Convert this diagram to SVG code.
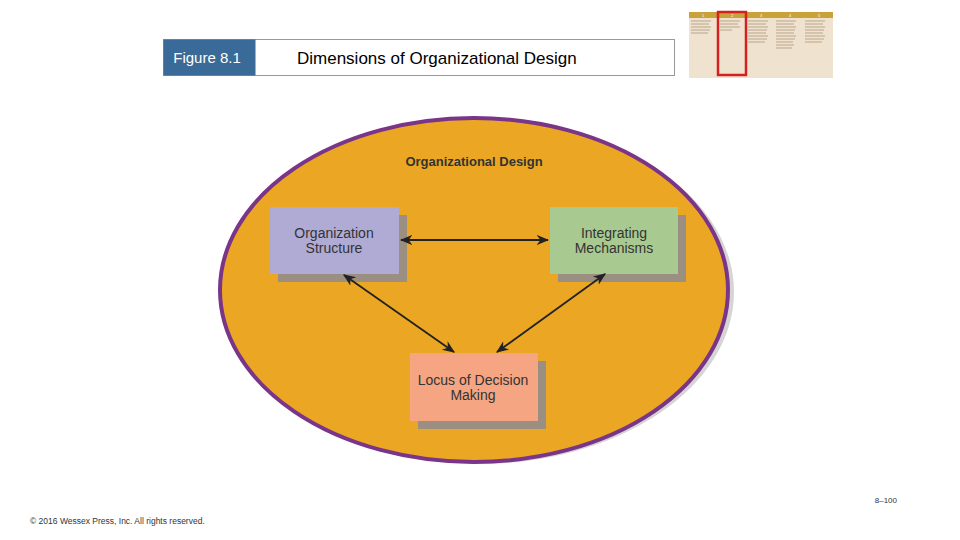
<svg xmlns="http://www.w3.org/2000/svg" width="960" height="540" viewBox="0 0 960 540">
<style>
.t{font-family:"Liberation Sans",Arial,sans-serif}
.box text{font-size:14px;fill:#333;text-anchor:middle}
.ln{stroke:#222;stroke-width:1.8;fill:none;marker-start:url(#a);marker-end:url(#a)}
.tl{stroke:#b9a58a;stroke-width:1.2}
.sh{fill:#9a8f80}
</style>
<defs>
<marker id="a" viewBox="0 0 10 10" refX="9" refY="5" markerWidth="7" markerHeight="7" orient="auto-start-reverse"><path d="M0,1 L10,5 L0,9 L3,5 Z" fill="#222"/></marker>
</defs>
<rect width="960" height="540" fill="#fff"/>
<g id="header">
<rect x="163.5" y="39.5" width="511" height="36" fill="#fff" stroke="#999"/>
<rect x="163.5" y="39.5" width="92" height="36" fill="#3a6a97"/>
<text class="t" x="207" y="63" font-size="15" fill="#fff" text-anchor="middle">Figure 8.1</text>
<text class="t" x="297" y="64" font-size="17" fill="#000">Dimensions of Organizational Design</text>
</g>
<g id="thumb">
<rect x="689" y="12" width="144" height="66" fill="#efe3d0"/>
<rect x="689" y="12" width="144" height="6" fill="#c9a23a"/>
<g class="t" font-size="4" fill="#fff" text-anchor="middle"><text x="703" y="17">1</text><text x="732" y="17">2</text><text x="761" y="17">3</text><text x="790" y="17">4</text><text x="819" y="17">5</text></g>
<g class="tl">
<path d="M691 21h20M691 24h18M691 27h20M691 30h19M691 33h17"/>
<path d="M720 21h20M720 24h18M720 27h20M720 30h12"/>
<path d="M748 21h20M748 24h18M748 27h20M748 30h19M748 33h18M748 36h20M748 39h19M748 42h17"/>
<path d="M776 21h20M776 24h18M776 27h20M776 30h19M776 33h18M776 36h20M776 39h19M776 42h17M776 45h18M776 48h16"/>
<path d="M805 21h20M805 24h18M805 27h20M805 30h19M805 33h18M805 36h20M805 39h19M805 42h17"/>
</g>
<rect x="718" y="12" width="28" height="63" fill="none" stroke="#d42020" stroke-width="2.5"/>
</g>
<ellipse cx="478" cy="292" rx="256" ry="172" fill="#888" opacity="0.35"/>
<ellipse cx="474" cy="290" rx="254" ry="172" fill="#eba723" stroke="#7a3589" stroke-width="4"/>
<text class="t" x="474" y="166" font-size="13" font-weight="bold" fill="#333" text-anchor="middle">Organizational Design</text>
<g id="n1" class="box t">
<rect class="sh" x="278" y="215" width="129" height="67"/>
<rect x="270" y="207" width="129" height="67" fill="#b0abd4"/>
<text x="334" y="238">Organization</text><text x="334" y="253">Structure</text>
</g>
<g id="n2" class="box t">
<rect class="sh" x="558" y="215" width="128" height="67"/>
<rect x="550" y="207" width="128" height="67" fill="#a8c98f"/>
<text x="614" y="238">Integrating</text><text x="614" y="253">Mechanisms</text>
</g>
<g id="n3" class="box t">
<rect class="sh" x="418" y="361" width="128" height="68"/>
<rect x="410" y="353" width="128" height="68" fill="#f5a582"/>
<text x="473" y="385">Locus of Decision</text><text x="473" y="400">Making</text>
</g>
<g id="connectors">
<line class="ln" x1="401" y1="240" x2="548" y2="240"/>
<line class="ln" x1="344" y1="275" x2="454" y2="352"/>
<line class="ln" x1="605" y1="274" x2="497" y2="352"/>
</g>
<text class="t" x="897" y="503" font-size="8" fill="#333" text-anchor="end">8–100</text>
<text class="t" x="30" y="524" font-size="8.5" fill="#333">© 2016 Wessex Press, Inc. All rights reserved.</text>
</svg>
